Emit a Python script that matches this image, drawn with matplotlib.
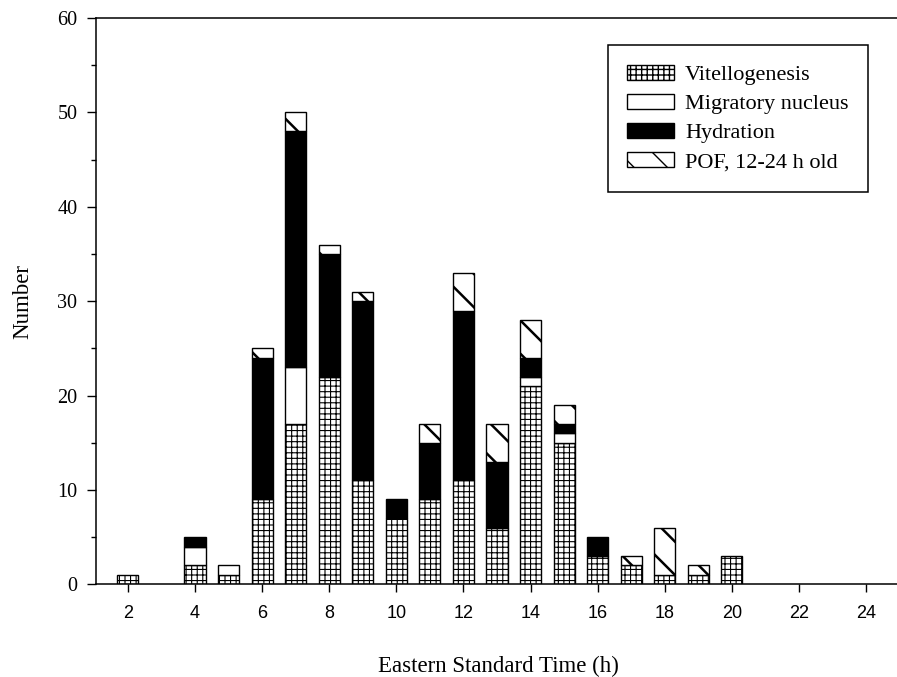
import numpy as np
import matplotlib
matplotlib.use('Agg')
import matplotlib.pyplot as plt
from matplotlib.patches import Patch
from matplotlib.ticker import MultipleLocator

# Ovary stage counts by hour of capture
hours = [2, 4, 5, 6, 7, 8, 9, 10, 11, 12, 13, 14, 15, 16, 17, 18, 19, 20]
vitellogenesis = [1, 2, 1, 9, 17, 22, 11, 7, 9, 11, 6, 21, 15, 3, 2, 1, 1, 3]
migratory = [0, 2, 1, 0, 6, 0, 0, 0, 0, 0, 0, 1, 1, 0, 0, 0, 0, 0]
hydration = [0, 1, 0, 15, 25, 13, 19, 2, 6, 18, 7, 2, 1, 2, 0, 0, 0, 0]
pof = [0, 0, 0, 1, 2, 1, 1, 0, 2, 4, 4, 4, 2, 0, 1, 5, 1, 0]

series_labels = ['Vitellogenesis', 'Migratory nucleus', 'Hydration', 'POF, 12-24 h old']
x_ticks = list(range(2, 25, 2))

serif = ['Liberation Serif', 'DejaVu Serif']
sans = ['Liberation Sans', 'DejaVu Sans']

fig = plt.figure(figsize=(8.97, 6.77), dpi=100)
ax = fig.add_axes([96 / 897, 1 - 584.3 / 677, 805 / 897, (584.3 - 18) / 677])

styles = [
    dict(facecolor='white', hatch='+++', hlw=0.8),
    dict(facecolor='white', hatch=None, hlw=0.8),
    dict(facecolor='black', hatch=None, hlw=0.8),
    dict(facecolor='white', hatch='\\', hlw=1.8),
]

x = np.array(hours)
bottom = np.zeros(len(hours))
for vals, st in zip([vitellogenesis, migratory, hydration, pof], styles):
    vals = np.array(vals, dtype=float)
    mask = vals > 0
    with plt.rc_context({'hatch.linewidth': st['hlw'], 'hatch.color': 'black'}):
        ax.bar(x[mask], vals[mask], bottom=bottom[mask], width=0.63,
               facecolor=st['facecolor'], edgecolor='black', linewidth=1.0,
               hatch=st['hatch'])
    bottom += vals

ax.set_xlim(1.05, 25.04)
ax.set_ylim(0, 60)
ax.set_xticks(x_ticks)
ax.set_xticklabels([str(t) for t in x_ticks], family=sans, fontsize=13)
ax.yaxis.set_major_locator(MultipleLocator(10))
ax.yaxis.set_minor_locator(MultipleLocator(5))
for lbl in ax.get_yticklabels():
    lbl.set_family(serif)
    lbl.set_fontsize(14.5)

ax.tick_params(axis='x', which='major', direction='out', length=6, width=1, pad=9)
ax.tick_params(axis='y', which='major', direction='out', length=6.5, width=1, pad=7)
ax.tick_params(axis='y', which='minor', direction='out', length=3.5, width=1)
ax.spines['right'].set_visible(False)
for s in ['left', 'bottom', 'top']:
    ax.spines[s].set_linewidth(1.1)

ax.set_xlabel('Eastern Standard Time (h)', family=serif, fontsize=16.5, labelpad=24)
ax.set_ylabel('Number', family=serif, fontsize=16.5, labelpad=17)

# legend handles
handles = []
for st, lab in zip(styles, series_labels):
    with plt.rc_context({'hatch.linewidth': st['hlw'], 'hatch.color': 'black'}):
        handles.append(Patch(facecolor=st['facecolor'], edgecolor='black', linewidth=1.0,
                             hatch=st['hatch'], label=lab))
leg = ax.legend(handles=handles, loc='upper right',
                bbox_to_anchor=(868 / 897, 1 - 45 / 677), bbox_transform=fig.transFigure,
                borderaxespad=0, prop={'family': serif, 'size': 16},
                handlelength=2.1, handleheight=0.7, handletextpad=0.5,
                labelspacing=0.38, borderpad=0.88, fancybox=False, framealpha=1)
leg.get_frame().set_edgecolor('black')
leg.get_frame().set_linewidth(1.1)

fig.savefig('out.png', dpi=100)
